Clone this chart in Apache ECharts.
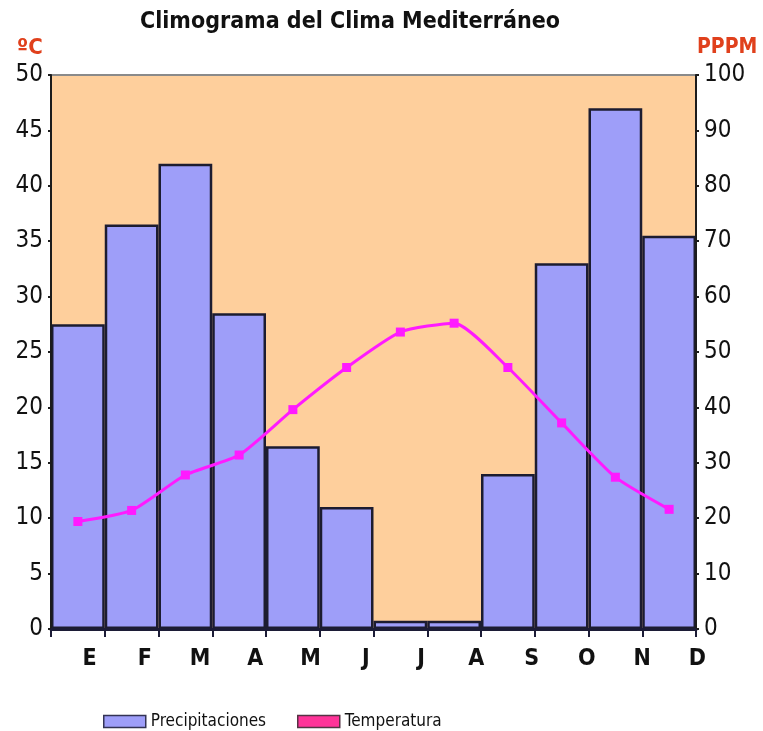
<!DOCTYPE html>
<html>
<head>
<meta charset="utf-8">
<script src="https://cdn.jsdelivr.net/npm/echarts@6/dist/echarts.min.js"></script>
<style>
html,body{margin:0;padding:0;background:#fff;}
#c{width:763px;height:731px;}
</style>
</head>
<body>
<div id="c"></div>
<script>
var months = ['E','F','M','A','M','J','J','A','S','O','N','D'];
var precipitaciones = [55, 73, 84, 57, 33, 22, 1.5, 1.5, 28, 66, 94, 71];
var temperatura = [9.7, 10.7, 13.9, 15.7, 19.8, 23.6, 26.8, 27.6, 23.6, 18.6, 13.7, 10.8];
var tempTicks = {min: 0, max: 50, interval: 5};
var precTicks = {min: 0, max: 100, interval: 10};

var FONT = '"DejaVu Sans Condensed", "Liberation Sans Narrow", "Liberation Sans", Arial, sans-serif';
var legendText = {fontFamily: FONT, fontSize: 17, color: '#111'};
var chart = echarts.init(document.getElementById('c'));
chart.setOption({
  animation: false,
  backgroundColor: '#ffffff',
  title: {
    text: 'Climograma del Clima Mediterráneo',
    left: 135, top: 6,
    textStyle: {fontFamily: FONT, fontSize: 23, fontWeight: 'bold', color: '#111'}
  },
  graphic: [
    {type: 'text', left: 17, top: 37, style: {text: 'ºC', font: 'bold 22px ' + FONT, fill: '#e0401c'}},
    {type: 'text', left: 697, top: 37, style: {text: 'PPPM', font: 'bold 21px ' + FONT, fill: '#e0401c'}}
  ],
  legend: [
    {
      left: 98, top: 708, itemWidth: 42, itemHeight: 12, icon: 'rect', textStyle: legendText,
      data: [{name: 'Precipitaciones', itemStyle: {color: '#9e9ef9', borderColor: '#333355', borderWidth: 1.5}}]
    },
    {
      left: 292, top: 708, itemWidth: 42, itemHeight: 12, icon: 'rect', textStyle: legendText,
      data: [{name: 'Temperatura', itemStyle: {color: '#ff3399', borderColor: '#553344', borderWidth: 1.5}}]
    }
  ],
  grid: [
    {left: 51, right: 67, top: 75, bottom: 102, show: true, backgroundColor: '#fecf9c', borderColor: '#8a8a8a', borderWidth: 2},
    {left: 62, right: 38, top: 75, bottom: 102, show: false}
  ],
  xAxis: [
    {
      type: 'category', data: months, gridIndex: 0, boundaryGap: true,
      axisLine: {show: true, lineStyle: {color: '#1c1c36', width: 3}},
      axisTick: {show: true, length: 8, lineStyle: {color: '#1c1c36', width: 2}},
      axisLabel: {show: false},
      z: 10
    },
    {
      type: 'category', data: months, gridIndex: 1, boundaryGap: true,
      axisLine: {show: false}, axisTick: {show: false},
      axisLabel: {show: true, margin: 19, fontFamily: FONT, fontSize: 23, fontWeight: 'bold', color: '#111'}
    }
  ],
  yAxis: [
    {
      type: 'value', gridIndex: 0, position: 'left',
      min: tempTicks.min, max: tempTicks.max, interval: tempTicks.interval,
      axisLine: {show: true, lineStyle: {color: '#1c1c1c', width: 2}},
      axisTick: {show: true, length: 3, lineStyle: {color: '#1c1c1c', width: 2}},
      splitLine: {show: false},
      axisLabel: {margin: 8, fontFamily: FONT, fontSize: 24, color: '#111'},
      z: 10
    },
    {
      type: 'value', gridIndex: 0, position: 'right',
      min: precTicks.min, max: precTicks.max, interval: precTicks.interval,
      axisLine: {show: true, lineStyle: {color: '#1c1c1c', width: 2}},
      axisTick: {show: true, length: 3, lineStyle: {color: '#1c1c1c', width: 2}},
      splitLine: {show: false},
      axisLabel: {margin: 8, fontFamily: FONT, fontSize: 24, color: '#111'},
      z: 10
    },
    {type: 'value', gridIndex: 1, show: false}
  ],
  series: [
    {
      name: 'Precipitaciones', type: 'bar', xAxisIndex: 0, yAxisIndex: 1,
      data: precipitaciones, barCategoryGap: 0,
      itemStyle: {color: '#9e9ef9', borderColor: '#1c1c30', borderWidth: 2.5}
    },
    {
      name: 'Temperatura', type: 'line', xAxisIndex: 0, yAxisIndex: 0,
      data: temperatura, smooth: 0.2,
      symbol: 'rect', symbolSize: 9,
      lineStyle: {color: '#ff1aff', width: 3},
      itemStyle: {color: '#ff1aff'},
      z: 5
    }
  ]
});
</script>
</body>
</html>
